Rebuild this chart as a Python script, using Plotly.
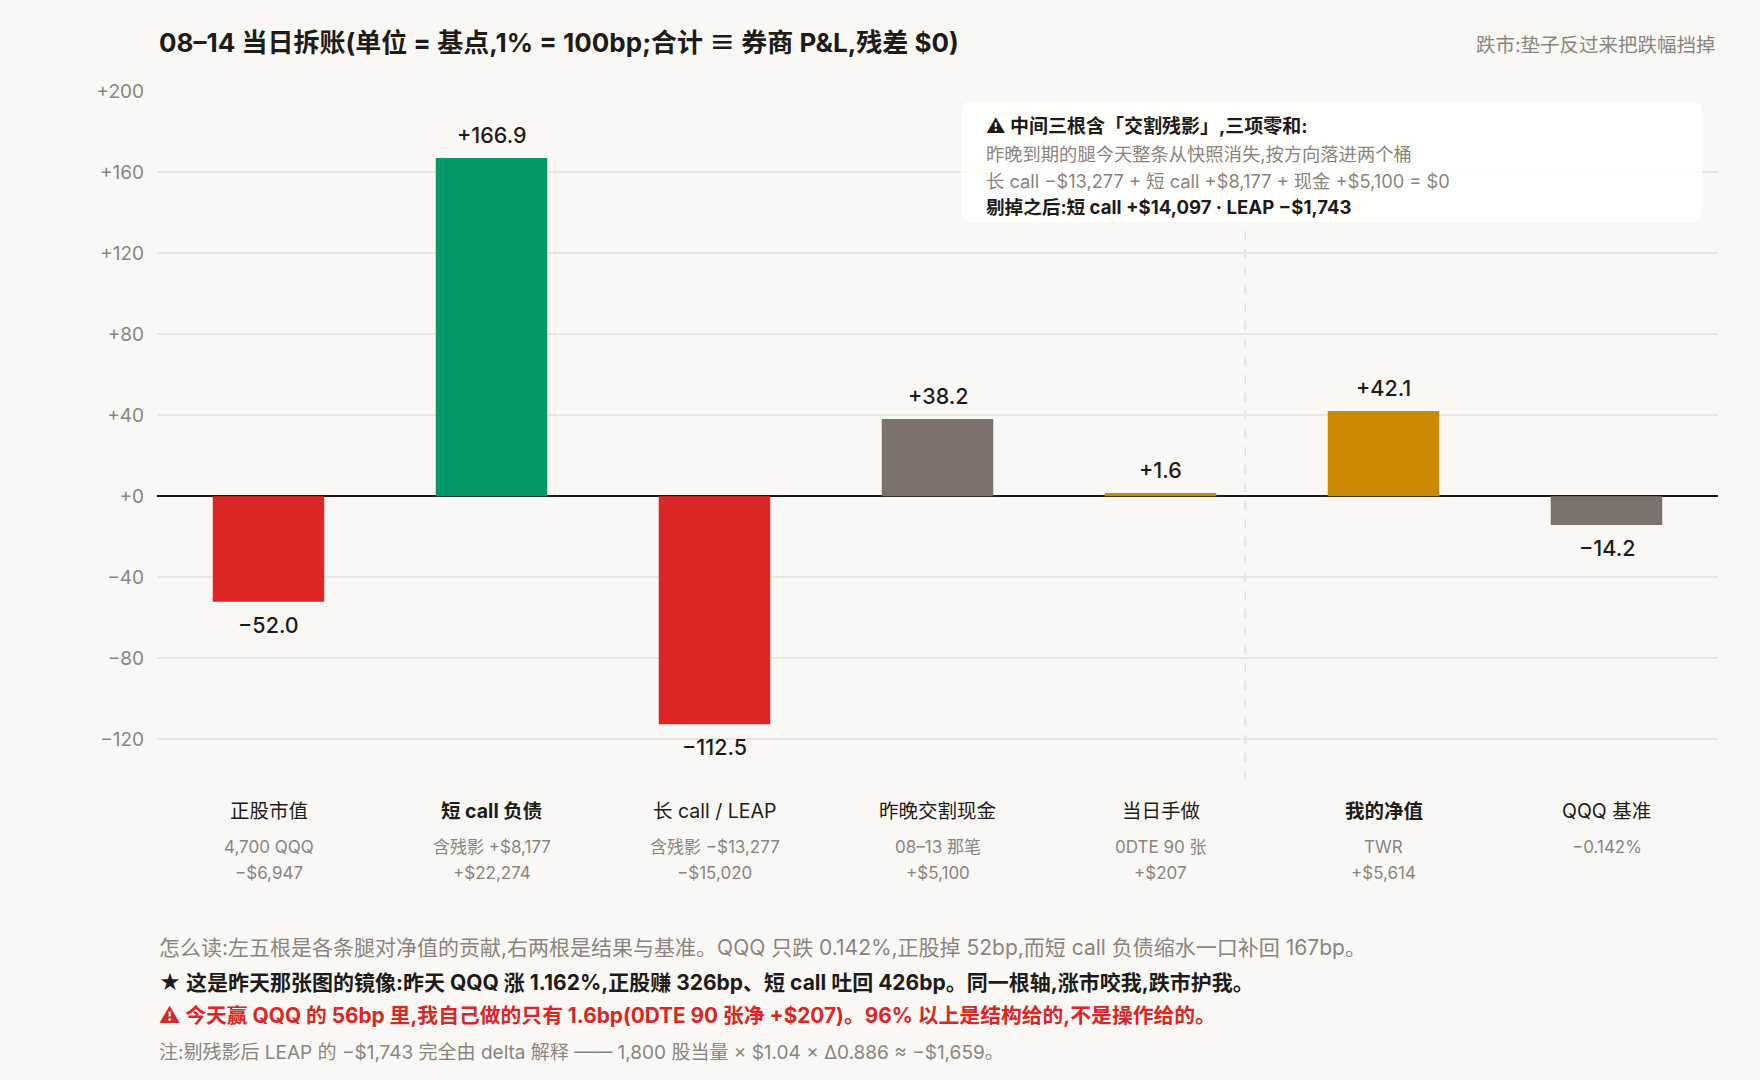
import plotly.graph_objects as go

# 08-14 breakdown, unit = bp of NAV
CATEGORIES = ["正股市值", "短 call 负债", "长 call / LEAP", "昨晚交割现金", "当日手做", "我的净值", "QQQ 基准"]
VALUES_BP = [-52.0, 166.9, -112.5, 38.2, 1.6, 42.1, -14.2]
SUB_LINE1 = ["4,700 QQQ", "含残影 +$8,177", "含残影 −$13,277", "08–13 那笔", "0DTE 90 张", "TWR", "−0.142%"]
SUB_LINE2 = ["−$6,947", "+$22,274", "−$15,020", "+$5,100", "+$207", "+$5,614", ""]
BOLD_CATS = ["短 call 负债", "我的净值"]
TICK_VALUES = [-120, -80, -40, 0, 40, 80, 120, 160, 200]

BOX_LINES = [
    "⚠ 中间三根含「交割残影」,三项零和:",
    "昨晚到期的腿今天整条从快照消失,按方向落进两个桶",
    "长 call −$13,277 + 短 call +$8,177 + 现金 +$5,100 = $0",
    "剔掉之后:短 call +$14,097 · LEAP −$1,743",
]
NOTES = [
    "怎么读:左五根是各条腿对净值的贡献,右两根是结果与基准。QQQ 只跌 0.142%,正股掉 52bp,而短 call 负债缩水一口补回 167bp。",
    "★ 这是昨天那张图的镜像:昨天 QQQ 涨 1.162%,正股赚 326bp、短 call 吐回 426bp。同一根轴,涨市咬我,跌市护我。",
    "⚠ 今天赢 QQQ 的 56bp 里,我自己做的只有 1.6bp(0DTE 90 张净 +$207)。96% 以上是结构给的,不是操作给的。",
    "注:剔残影后 LEAP 的 −$1,743 完全由 delta 解释 —— 1,800 股当量 × $1.04 × Δ0.886 ≈ −$1,659。",
]

RED = "#DC2626"
GREEN = "#059669"
GRAY = "#7A716B"
GOLD = "#CA8A04"
BAR_COLOURS = [RED, GREEN, RED, GRAY, GOLD, GOLD, GRAY]

BG = "#FAF8F4"
GRID = "#ECE5DA"
INK = "#1F1B18"
MUTED = "#8C847C"
FONT = "Inter, Noto Sans CJK SC, sans-serif"


def fmt(v):
    return ("+" if v >= 0 else "−") + f"{abs(v):.1f}"


def fmt_tick(v):
    return ("+" if v >= 0 else "−") + f"{abs(v)}"


fig = go.Figure(go.Bar(
    x=CATEGORIES,
    y=VALUES_BP,
    marker=dict(color=BAR_COLOURS, line=dict(width=0)),
    hoverinfo="skip",
))

# value labels above / below each bar
for cat, v in zip(CATEGORIES, VALUES_BP):
    fig.add_annotation(x=cat, y=v, text=fmt(v), showarrow=False,
                       yshift=23 if v >= 0 else -23, yanchor="middle",
                       font=dict(size=21.5, color=INK, family=FONT, weight=500))

# category labels under the plot
for cat, s1, s2 in zip(CATEGORIES, SUB_LINE1, SUB_LINE2):
    bold = cat in BOLD_CATS
    fig.add_annotation(x=cat, y=-0.045, yref="paper", text=cat, showarrow=False,
                       yanchor="middle",
                       font=dict(size=19.5, color=INK, family=FONT, weight=700 if bold else 400))
    fig.add_annotation(x=cat, y=-0.097, yref="paper", text=s1, showarrow=False,
                       yanchor="middle", font=dict(size=17, color=MUTED, family=FONT))
    if s2:
        fig.add_annotation(x=cat, y=-0.135, yref="paper", text=s2, showarrow=False,
                           yanchor="middle", font=dict(size=17, color=MUTED, family=FONT))

# split between contributions and results
fig.add_shape(type="line", x0=4.38, x1=4.38, y0=0, y1=0.8, xref="x", yref="paper",
              line=dict(color="#E6DED2", width=1.5, dash="dash"), layer="below")

# rounded note box
x0, x1, y0, y1 = 0.515, 0.990, 0.810, 0.9855
rx, ry = 0.0077, 0.0174
path = (f"M {x0 + rx},{y0} L {x1 - rx},{y0} Q {x1},{y0} {x1},{y0 + ry} "
        f"L {x1},{y1 - ry} Q {x1},{y1} {x1 - rx},{y1} L {x0 + rx},{y1} "
        f"Q {x0},{y1} {x0},{y1 - ry} L {x0},{y0 + ry} Q {x0},{y0} {x0 + rx},{y0} Z")
fig.add_shape(type="path", path=path, xref="paper", yref="paper",
              fillcolor="rgba(255,255,255,0.88)", line=dict(width=0), layer="above")

box_y = [0.949, 0.9086, 0.8694, 0.8316]
box_style = [(INK, 700, 19), (MUTED, 400, 18.3), (MUTED, 400, 18.3), (INK, 700, 18.6)]
for txt, yy, (col, w, sz) in zip(BOX_LINES, box_y, box_style):
    fig.add_annotation(x=0.530, y=yy, xref="paper", yref="paper", text=txt,
                       showarrow=False, xanchor="left", yanchor="middle",
                       font=dict(size=sz, color=col, family=FONT, weight=w))

# title + right note
fig.add_annotation(x=0, y=1.0697, xref="paper", yref="paper",
                   text="08–14 当日拆账(单位 = 基点,1% = 100bp;合计 ≡ 券商 P&L,残差 $0)",
                   showarrow=False, xanchor="left", yanchor="middle",
                   font=dict(size=26, color=INK, family=FONT, weight=700))
fig.add_annotation(x=1, y=1.0668, xref="paper", yref="paper",
                   text="跌市:垫子反过来把跌幅挡掉", showarrow=False,
                   xanchor="right", yanchor="middle",
                   font=dict(size=19.5, color=MUTED, family=FONT))

# reading notes at the bottom
note_y = [-0.2438, -0.2932, -0.3425, -0.3962]
note_style = [(MUTED, 400, 21), (INK, 700, 21), (RED, 700, 20.8), (MUTED, 400, 19)]
for txt, yy, (col, w, sz) in zip(NOTES, note_y, note_style):
    fig.add_annotation(x=0, y=yy, xref="paper", yref="paper", text=txt,
                       showarrow=False, xanchor="left", yanchor="middle",
                       font=dict(size=sz, color=col, family=FONT, weight=w))

fig.update_layout(
    width=1760, height=1080,
    margin=dict(l=157, r=42, t=91, b=300),
    paper_bgcolor=BG, plot_bgcolor=BG,
    bargap=0.5, showlegend=False,
    font=dict(family=FONT, color=INK),
)
fig.update_xaxes(showticklabels=False, showgrid=False, zeroline=False,
                 range=[-0.5, 6.5], fixedrange=True)
fig.update_yaxes(range=[-140, 200], tickvals=TICK_VALUES,
                 ticktext=[fmt_tick(t) for t in TICK_VALUES],
                 tickfont=dict(size=19, color=MUTED, family=FONT),
                 gridcolor=GRID, gridwidth=1.5,
                 zeroline=True, zerolinecolor=INK, zerolinewidth=2,
                 ticks="", ticklabelstandoff=12, fixedrange=True)

fig.write_html("out.html", config={"displayModeBar": False},
               post_script="document.body.style.margin='0';"
                           "document.body.style.background='" + BG + "';")
